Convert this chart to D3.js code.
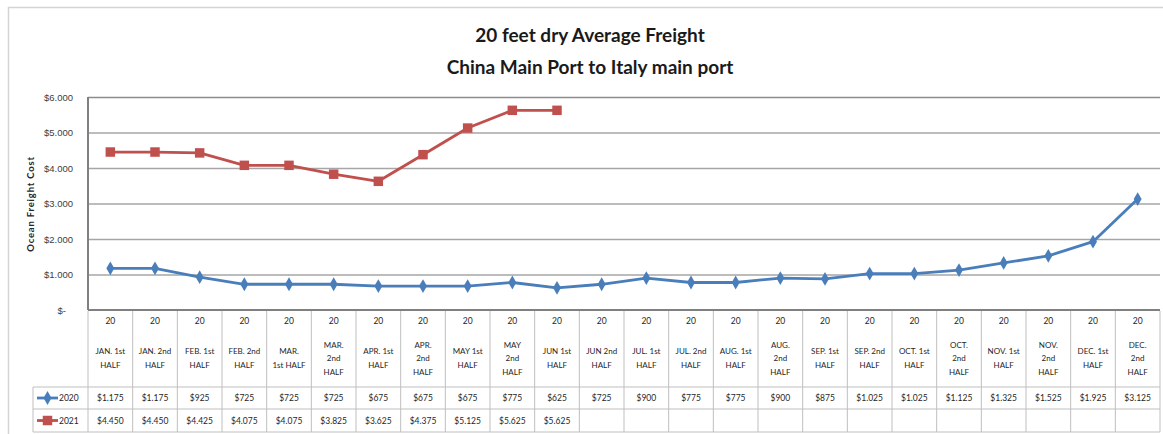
<!DOCTYPE html>
<html>
<head>
<meta charset="utf-8">
<script src="https://cdn.jsdelivr.net/npm/d3@7"></script>
<style>
  html, body { margin: 0; padding: 0; background: #fff; }
  svg { display: block; font-family: Lato, "Open Sans", sans-serif; }
</style>
</head>
<body>
<svg id="chart" width="1163" height="434"></svg>
<script>
// ---------- DATA ----------
const yearLabels = ["20","20","20","20","20","20","20","20","20","20","20","20","20","20","20","20","20","20","20","20","20","20","20","20"];
const categories = [
  "JAN. 1st|HALF", "JAN. 2nd|HALF", "FEB. 1st|HALF", "FEB. 2nd|HALF", "MAR.|1st HALF",
  "MAR.|2nd|HALF", "APR. 1st|HALF", "APR.|2nd|HALF", "MAY 1st|HALF", "MAY|2nd|HALF",
  "JUN 1st|HALF", "JUN 2nd|HALF", "JUL. 1st|HALF", "JUL. 2nd|HALF", "AUG. 1st|HALF",
  "AUG.|2nd|HALF", "SEP. 1st|HALF", "SEP. 2nd|HALF", "OCT. 1st|HALF", "OCT.|2nd|HALF",
  "NOV. 1st|HALF", "NOV.|2nd|HALF", "DEC. 1st|HALF", "DEC.|2nd|HALF"
];
const series2020 = [1175,1175,925,725,725,725,675,675,675,775,625,725,900,775,775,900,875,1025,1025,1125,1325,1525,1925,3125];
const series2021 = [4450,4450,4425,4075,4075,3825,3625,4375,5125,5625,5625];
const seriesNames = ["2020","2021"];
const yTicks = [0,1000,2000,3000,4000,5000,6000];
const titleLines = ["20 feet dry Average Freight","China Main Port to Italy main port"];
const yAxisTitle = "Ocean Freight Cost";

// ---------- LAYOUT ----------
const svg = d3.select("#chart");
const L = 88, R = 1160, T = 97, B = 310;
const tableBottom = 432, headerBottom = 387, row1Bottom = 409;
const legendLeft = 33;
const blue = "#4a7ebb", red = "#c0504d";
const gridColor = "#a6a6a6", tableLine = "#bfbfbf";

svg.append("rect").attr("width",1163).attr("height",434).attr("fill","#fff");
svg.append("rect").attr("x",8.5).attr("y",7.5).attr("width",1180).attr("height",450)
  .attr("fill","none").attr("stroke","#d4d4d4").attr("stroke-width",1.5);

// title
svg.selectAll("text.title").data(titleLines).join("text")
  .attr("class","title")
  .attr("x",590).attr("y",(d,i)=>42+i*32)
  .attr("text-anchor","middle")
  .attr("font-size",19).attr("font-weight","bold").attr("fill","#1a1a1a")
  .text(d=>d);

// scales
const x = d3.scaleBand().domain(d3.range(categories.length)).range([L,R]).padding(0);
const y = d3.scaleLinear().domain([0,6000]).range([B,T]);
const cx = i => x(i) + x.bandwidth()/2;

const fmtVal = v => v >= 1000 ? "$" + Math.floor(v/1000) + "." + String(v%1000).padStart(3,"0") : "$" + v;
const fmtTick = v => v === 0 ? "$-" : fmtVal(v);

// y axis with gridlines
const yAxis = d3.axisLeft(y).tickValues(yTicks).tickSize(-(R-L)).tickPadding(15).tickFormat(fmtTick);
const gy = svg.append("g").attr("transform",`translate(${L},0)`).call(yAxis);
gy.select(".domain").remove();
gy.selectAll(".tick line").attr("stroke",d=> d===6000 ? "#8c8c8c" : gridColor).attr("stroke-width",d=>d===0?0:1.6);
gy.selectAll(".tick text").attr("font-size",9.5).attr("fill","#404040")
  .attr("dx", d => d===0 ? -7 : 0);

// axis lines
svg.append("line").attr("x1",L).attr("x2",L).attr("y1",T).attr("y2",B)
  .attr("stroke","#808080").attr("stroke-width",2);
svg.append("line").attr("x1",L).attr("x2",R).attr("y1",B).attr("y2",B)
  .attr("stroke","#808080").attr("stroke-width",2);

// y axis title
svg.append("text")
  .attr("transform","translate(34,204) rotate(-90)")
  .attr("text-anchor","middle").attr("font-size",9.5).attr("letter-spacing",0.8)
  .attr("font-weight","bold").attr("fill","#262626")
  .text(yAxisTitle);

// lines
const line = d3.line().x((d,i)=>cx(i)).y(d=>y(d));
svg.append("path").datum(series2020).attr("d",line)
  .attr("fill","none").attr("stroke",blue).attr("stroke-width",2.8).attr("stroke-linejoin","round");
svg.append("path").datum(series2021).attr("d",line)
  .attr("fill","none").attr("stroke",red).attr("stroke-width",2.8).attr("stroke-linejoin","round");

const diamond = d3.symbol().type(d3.symbolDiamond).size(55);
const square = d3.symbol().type(d3.symbolSquare).size(90);
svg.append("g").selectAll("path").data(series2020).join("path")
  .attr("d",diamond).attr("transform",(d,i)=>`translate(${cx(i)},${y(d)})`).attr("fill",blue);
svg.append("g").selectAll("path").data(series2021).join("path")
  .attr("d",square).attr("transform",(d,i)=>`translate(${cx(i)},${y(d)})`).attr("fill",red);

// ---------- DATA TABLE ----------
const tg = svg.append("g");
const bounds = d3.range(categories.length+1).map(i => i < categories.length ? x(i) : R);
tg.selectAll("line.v").data(bounds).join("line")
  .attr("x1",d=>d).attr("x2",d=>d).attr("y1",B+1).attr("y2",tableBottom)
  .attr("stroke",tableLine).attr("stroke-width",1);
[headerBottom,row1Bottom,tableBottom].forEach(yy=>{
  tg.append("line").attr("x1",legendLeft).attr("x2",R).attr("y1",yy).attr("y2",yy)
    .attr("stroke",tableLine).attr("stroke-width",1);
});
tg.append("line").attr("x1",legendLeft).attr("x2",legendLeft).attr("y1",headerBottom).attr("y2",tableBottom)
  .attr("stroke",tableLine).attr("stroke-width",1);

// header text
const hdr = tg.selectAll("g.h").data(categories).join("g").attr("class","h")
  .attr("transform",(d,i)=>`translate(${cx(i)},0)`);
hdr.append("text").attr("y",324).attr("text-anchor","middle").attr("font-size",8.5).attr("fill","#262626")
  .text((d,i)=>yearLabels[i]);
hdr.each(function(d){
  const lines = d.split("|");
  const lh = 13.5, mid = 358;
  const start = mid - (lines.length-1)*lh/2;
  d3.select(this).selectAll("text.l").data(lines).join("text").attr("class","l")
    .attr("y",(t,j)=>start + j*lh + 3)
    .attr("text-anchor","middle").attr("font-size",8).attr("fill","#262626")
    .text(t=>t);
});

// value rows
const rowMid = [(headerBottom+row1Bottom)/2, (row1Bottom+tableBottom)/2];
[series2020, series2021].forEach((s,k)=>{
  tg.append("g").selectAll("text").data(s).join("text")
    .attr("x",(d,i)=>cx(i)).attr("y",rowMid[k]+3.2)
    .attr("text-anchor","middle").attr("font-size",8.5).attr("fill","#1f1f1f")
    .text(fmtVal);
});

// legend keys
const colors = [blue, red];
seriesNames.forEach((n,k)=>{
  const yy = rowMid[k];
  tg.append("line").attr("x1",37).attr("x2",58).attr("y1",yy).attr("y2",yy)
    .attr("stroke",colors[k]).attr("stroke-width",2.8);
  tg.append("path").attr("d", k===0 ? diamond() : square())
    .attr("transform",`translate(47.5,${yy})`).attr("fill",colors[k]);
  tg.append("text").attr("x",59).attr("y",yy+3.2).attr("font-size",8.5).attr("fill","#1f1f1f").text(n);
});
</script>
</body>
</html>
